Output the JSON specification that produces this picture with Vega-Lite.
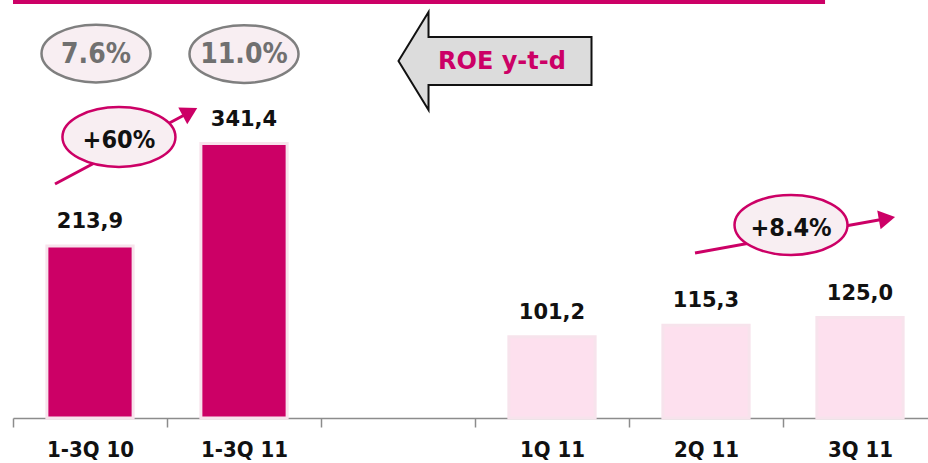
{
  "$schema": "https://vega.github.io/schema/vega-lite/v6.json",
  "autosize": "none",
  "padding": {"left": 13, "top": 0, "right": 0, "bottom": 45},
  "width": 915,
  "height": 418,
  "background": "white",
  "config": {
    "view": {"stroke": null},
    "locale": {"number": {"decimal": ",", "thousands": ".", "grouping": [3], "currency": ["", " €"]}}
  },
  "datasets": {
    "bars": [
      {"period": "1-3Q 10", "value": 213.9, "kind": "ytd"},
      {"period": "1-3Q 11", "value": 341.4, "kind": "ytd"},
      {"period": "1Q 11", "value": 101.2, "kind": "quarter"},
      {"period": "2Q 11", "value": 115.3, "kind": "quarter"},
      {"period": "3Q 11", "value": 125.0, "kind": "quarter"}
    ],
    "roe": [
      {"u": 0.539, "v": 453.4, "label": "7.6%"},
      {"u": 1.5, "v": 452.8, "label": "11.0%"}
    ],
    "growth": [
      {"u": 0.688, "v": 349.6, "label": "+60%"},
      {"u": 5.052, "v": 240.1, "label": "+8.4%"}
    ],
    "arrowLines": [
      {"g": "a", "u": 0.2727, "v": 291.1},
      {"g": "a", "u": 1.1494, "v": 380.7},
      {"g": "b", "u": 4.4286, "v": 205.3},
      {"g": "b", "u": 5.6753, "v": 248.3}
    ],
    "arrowHeads": [
      {"u": 1.1494, "v": 380.7, "dir": -28.2},
      {"u": 5.6753, "v": 248.3, "dir": -10.2}
    ],
    "roeArrow": [
      {"u": 3.1299, "v": 444.1, "label": "ROE y-t-d"}
    ],
    "topLine": [
      {"u": 0, "u2": 5.273, "v": 517.5}
    ]
  },
  "resolve": {"scale": {"x": "independent"}},
  "layer": [
    {
      "data": {"name": "bars"},
      "layer": [
        {
          "mark": {"type": "bar", "width": {"band": 0.56}, "stroke": "#f7e3ec", "strokeWidth": 3},
          "encoding": {
            "x": {
              "field": "period", "type": "nominal",
              "scale": {"domain": ["1-3Q 10", "1-3Q 11", " ", "1Q 11", "2Q 11", "3Q 11"], "range": [0, 924], "paddingInner": 0, "paddingOuter": 0},
              "axis": {
                "title": null, "labelAngle": 0, "tickBand": "extent",
                "domainColor": "#8c8c8c", "domainWidth": 1.5, "tickColor": "#8c8c8c", "tickWidth": 1.5, "tickSize": 9,
                "labelFont": "DejaVu Sans Condensed, DejaVu Sans", "labelFontWeight": "bold", "labelFontSize": 22, "labelColor": "#111111", "labelPadding": 12
              }
            },
            "y": {"field": "value", "type": "quantitative", "scale": {"domain": [0, 520], "nice": false, "zero": true}, "axis": null},
            "color": {"field": "kind", "type": "nominal", "scale": {"domain": ["ytd", "quarter"], "range": ["#cc0066", "#fde0ee"]}, "legend": null}
          }
        },
        {
          "mark": {"type": "text", "dy": -18, "baseline": "alphabetic", "font": "DejaVu Sans", "fontWeight": "bold", "fontSize": 21, "color": "#111111"},
          "encoding": {
            "x": {"field": "period", "type": "nominal", "scale": {"domain": ["1-3Q 10", "1-3Q 11", " ", "1Q 11", "2Q 11", "3Q 11"], "range": [0, 924], "paddingInner": 0, "paddingOuter": 0}},
            "y": {"field": "value", "type": "quantitative"},
            "text": {"field": "value", "type": "quantitative", "format": ".1f"}
          }
        }
      ]
    },
    {
      "data": {"name": "topLine"},
      "mark": {"type": "rule", "color": "#cc0066", "strokeWidth": 4},
      "encoding": {
        "x": {"field": "u", "type": "quantitative", "scale": {"domain": [0, 6], "range": [0, 924], "nice": false, "zero": false}, "axis": null},
        "x2": {"field": "u2"},
        "y": {"field": "v", "type": "quantitative"}
      }
    },
    {
      "data": {"name": "arrowLines"},
      "mark": {"type": "line", "color": "#cc0066", "strokeWidth": 3},
      "encoding": {
        "x": {"field": "u", "type": "quantitative", "scale": {"domain": [0, 6], "range": [0, 924], "nice": false, "zero": false}, "axis": null},
        "y": {"field": "v", "type": "quantitative"},
        "detail": {"field": "g"}
      }
    },
    {
      "data": {"name": "arrowHeads"},
      "mark": {"type": "point", "shape": "triangle-right", "filled": true, "color": "#cc0066", "opacity": 1, "size": 360},
      "encoding": {
        "x": {"field": "u", "type": "quantitative", "scale": {"domain": [0, 6], "range": [0, 924], "nice": false, "zero": false}, "axis": null},
        "y": {"field": "v", "type": "quantitative"},
        "angle": {"field": "dir", "type": "quantitative", "scale": null}
      }
    },
    {
      "data": {"name": "roeArrow"},
      "layer": [
        {
          "mark": {"type": "point", "shape": "M-1,0L-0.689,-0.508L-0.689,-0.249L1,-0.249L1,0.249L-0.689,0.249L-0.689,0.508Z", "filled": true, "fill": "#dcdcdc", "fillOpacity": 1, "stroke": "#111111", "strokeWidth": 2, "opacity": 1, "size": 37249},
          "encoding": {
            "x": {"field": "u", "type": "quantitative", "scale": {"domain": [0, 6], "range": [0, 924], "nice": false, "zero": false}, "axis": null},
            "y": {"field": "v", "type": "quantitative"}
          }
        },
        {
          "mark": {"type": "text", "dx": 7, "dy": 1, "baseline": "middle", "font": "DejaVu Sans", "fontWeight": "bold", "fontSize": 24, "color": "#cc0066"},
          "encoding": {
            "x": {"field": "u", "type": "quantitative", "scale": {"domain": [0, 6], "range": [0, 924], "nice": false, "zero": false}, "axis": null},
            "y": {"field": "v", "type": "quantitative"},
            "text": {"field": "label"}
          }
        }
      ]
    },
    {
      "data": {"name": "roe"},
      "layer": [
        {
          "mark": {"type": "point", "shape": "M-1,0A1,0.53 0 1,1 1,0A1,0.53 0 1,1 -1,0Z", "filled": true, "fill": "#f8eef2", "fillOpacity": 1, "stroke": "#7f7f7f", "strokeWidth": 2.5, "opacity": 1, "size": 11881},
          "encoding": {
            "x": {"field": "u", "type": "quantitative", "scale": {"domain": [0, 6], "range": [0, 924], "nice": false, "zero": false}, "axis": null},
            "y": {"field": "v", "type": "quantitative"}
          }
        },
        {
          "mark": {"type": "text", "baseline": "middle", "dy": 1, "font": "DejaVu Sans Condensed, DejaVu Sans", "fontWeight": "bold", "fontSize": 28, "color": "#707070"},
          "encoding": {
            "x": {"field": "u", "type": "quantitative", "scale": {"domain": [0, 6], "range": [0, 924], "nice": false, "zero": false}, "axis": null},
            "y": {"field": "v", "type": "quantitative"},
            "text": {"field": "label"}
          }
        }
      ]
    },
    {
      "data": {"name": "growth"},
      "layer": [
        {
          "mark": {"type": "point", "shape": "M-1,0A1,0.53 0 1,1 1,0A1,0.53 0 1,1 -1,0Z", "filled": true, "fill": "#f8eef2", "fillOpacity": 1, "stroke": "#cc0066", "strokeWidth": 2.5, "opacity": 1, "size": 12769},
          "encoding": {
            "x": {"field": "u", "type": "quantitative", "scale": {"domain": [0, 6], "range": [0, 924], "nice": false, "zero": false}, "axis": null},
            "y": {"field": "v", "type": "quantitative"}
          }
        },
        {
          "mark": {"type": "text", "baseline": "middle", "dy": 3, "font": "DejaVu Sans Condensed, DejaVu Sans", "fontWeight": "bold", "fontSize": 25, "color": "#111111"},
          "encoding": {
            "x": {"field": "u", "type": "quantitative", "scale": {"domain": [0, 6], "range": [0, 924], "nice": false, "zero": false}, "axis": null},
            "y": {"field": "v", "type": "quantitative"},
            "text": {"field": "label"}
          }
        }
      ]
    }
  ]
}
